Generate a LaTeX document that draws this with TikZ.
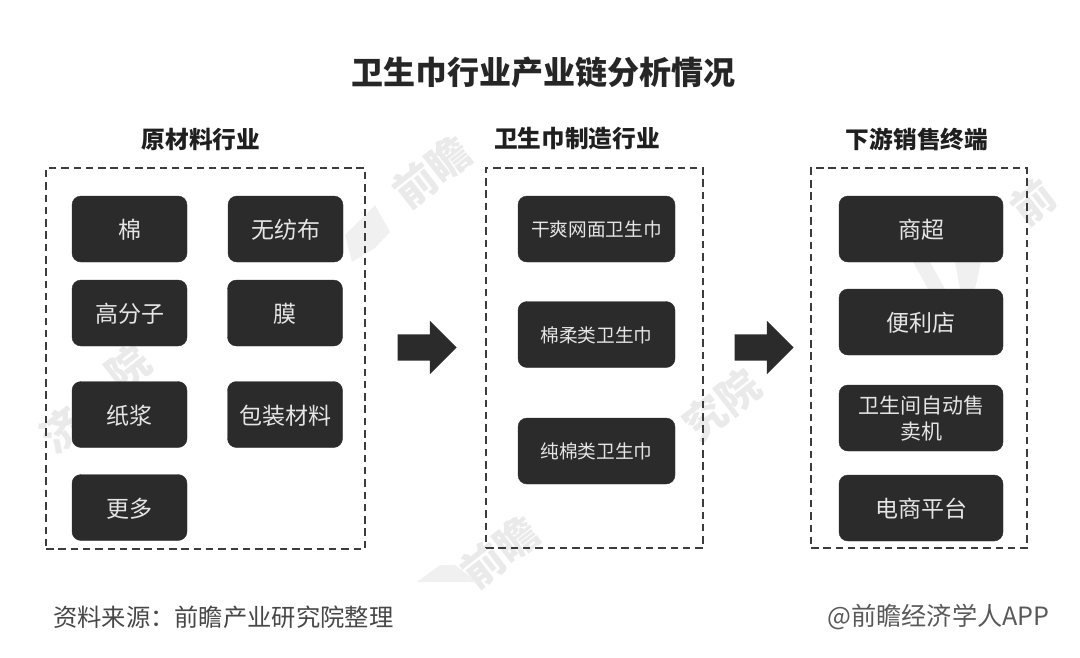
\documentclass[tikz,border=0pt]{standalone}
\usepackage{xcolor}
\usepackage{fontspec}
\setmainfont{Noto Sans CJK SC}
\usetikzlibrary{shapes.arrows}
\definecolor{darkbox}{HTML}{2B2B2B}
\definecolor{framegray}{HTML}{3C3C3C}
\definecolor{markgray}{HTML}{EAEAEA}

\begin{document}
\begin{tikzpicture}[x=1pt,y=-1pt]
  \tikzstyle{item}=[draw=darkbox,fill=darkbox,rounded corners=9pt,text=white!90!black,align=center,
    inner sep=0pt,text depth=0pt,font=\fontsize{23}{26}\selectfont]
  \tikzstyle{frame}=[draw=framegray,line width=2.3pt,dash pattern=on 7.5pt off 4.8pt,anchor=north west,inner sep=0pt,outer sep=0pt]
  \tikzstyle{head}=[font=\fontsize{23.7}{26}\selectfont\bfseries,text=black!88]
  \tikzstyle{flow}=[single arrow,fill=darkbox,draw=none,minimum height=59pt,
    single arrow head extend=13.5pt,single arrow tip angle=90,inner sep=0pt]
  \tikzstyle{wmark}=[text=markgray,rotate=38,font=\fontsize{42}{46}\selectfont\bfseries]
  \useasboundingbox (0,0) rectangle (1080,657);

  % watermark
  \node[wmark] (mark1) at (432,172) {前瞻};
  \node[wmark] (mark2) at (62,430) {济};
  \node[wmark] (mark3) at (128,368) {院};
  \node[wmark] (mark4) at (722,405) {究院};
  \node[wmark] (mark5) at (500,552) {前瞻};
  \node[wmark] (mark6) at (1033,202) {前};
  \fill[markgray!70] (375,205) -- (390,232) -- (375,248) -- (352,262) -- (345,235) -- cycle;
  \fill[markgray!70] (913,262) -- (930,262) -- (945,289) -- (928,289) -- cycle;
  \fill[markgray!70] (955,262) -- (981,262) -- (975,289) -- (960,289) -- cycle;
  \fill[markgray!70] (417,582) -- (440,565) -- (455,565) -- (477,582) -- cycle;

  \node[font=\fontsize{32}{36}\selectfont\bfseries,text=black!85] (title) at (543,72) {卫生巾行业产业链分析情况};

  \node[head] (head1) at (201,139) {原材料行业};
  \node[head] (head2) at (577,139) {卫生巾制造行业};
  \node[head] (head3) at (917,139) {下游销售终端};

  \node[frame,minimum width=319pt,minimum height=381pt] (raw)  at (46,168)  {};
  \node[frame,minimum width=217pt,minimum height=380pt] (make) at (486,168) {};
  \node[frame,minimum width=216pt,minimum height=380pt] (sell) at (811,168) {};

  \tikzset{rawitem/.style={item,minimum width=115pt,minimum height=66pt}}
  \node[rawitem] (cotton)  at (129.5,229) {棉};
  \node[rawitem] (nonwoven) at (285.5,229) {无纺布};
  \node[rawitem] (polymer) at (129.5,313) {高分子};
  \node[rawitem] (film)    at (285,313)   {膜};
  \node[rawitem] (pulp)    at (129.5,414.5) {纸浆};
  \node[rawitem] (package) at (285,414.5) {包装材料};
  \node[rawitem] (more)    at (129.5,507.5) {更多};

  \tikzset{makeitem/.style={item,minimum width=157pt,minimum height=66pt,font=\fontsize{18.7}{22}\selectfont}}
  \node[makeitem] (dry)  at (596.5,229)   {干爽网面卫生巾};
  \node[makeitem] (soft) at (596.5,334.5) {棉柔类卫生巾};
  \node[makeitem] (pure) at (596.5,451)   {纯棉类卫生巾};

  \tikzset{sellitem/.style={item,minimum width=164pt,minimum height=66pt}}
  \node[sellitem] (super)  at (921,229) {商超};
  \node[sellitem] (conv)   at (921,322) {便利店};
  \node[sellitem,font=\fontsize{21}{26}\selectfont] (vending) at (921,418) {卫生间自动售\\卖机};
  \node[sellitem] (online) at (921,508) {电商平台};

  \node[flow] (arrow1) at (420.5,347.5) {\rule{0pt}{26pt}};
  \node[flow] (arrow2) at (757.5,347.5) {\rule{0pt}{26pt}};

  \node[anchor=west,text=black!72,font=\fontsize{24.3}{28}\selectfont,inner sep=0pt] (source) at (53,617) {资料来源：前瞻产业研究院整理};
  \node[anchor=east,text=black!65,font=\fontsize{25.2}{28}\selectfont,inner sep=0pt] (brand) at (1050,617) {@前瞻经济学人APP};
\end{tikzpicture}
\end{document}
